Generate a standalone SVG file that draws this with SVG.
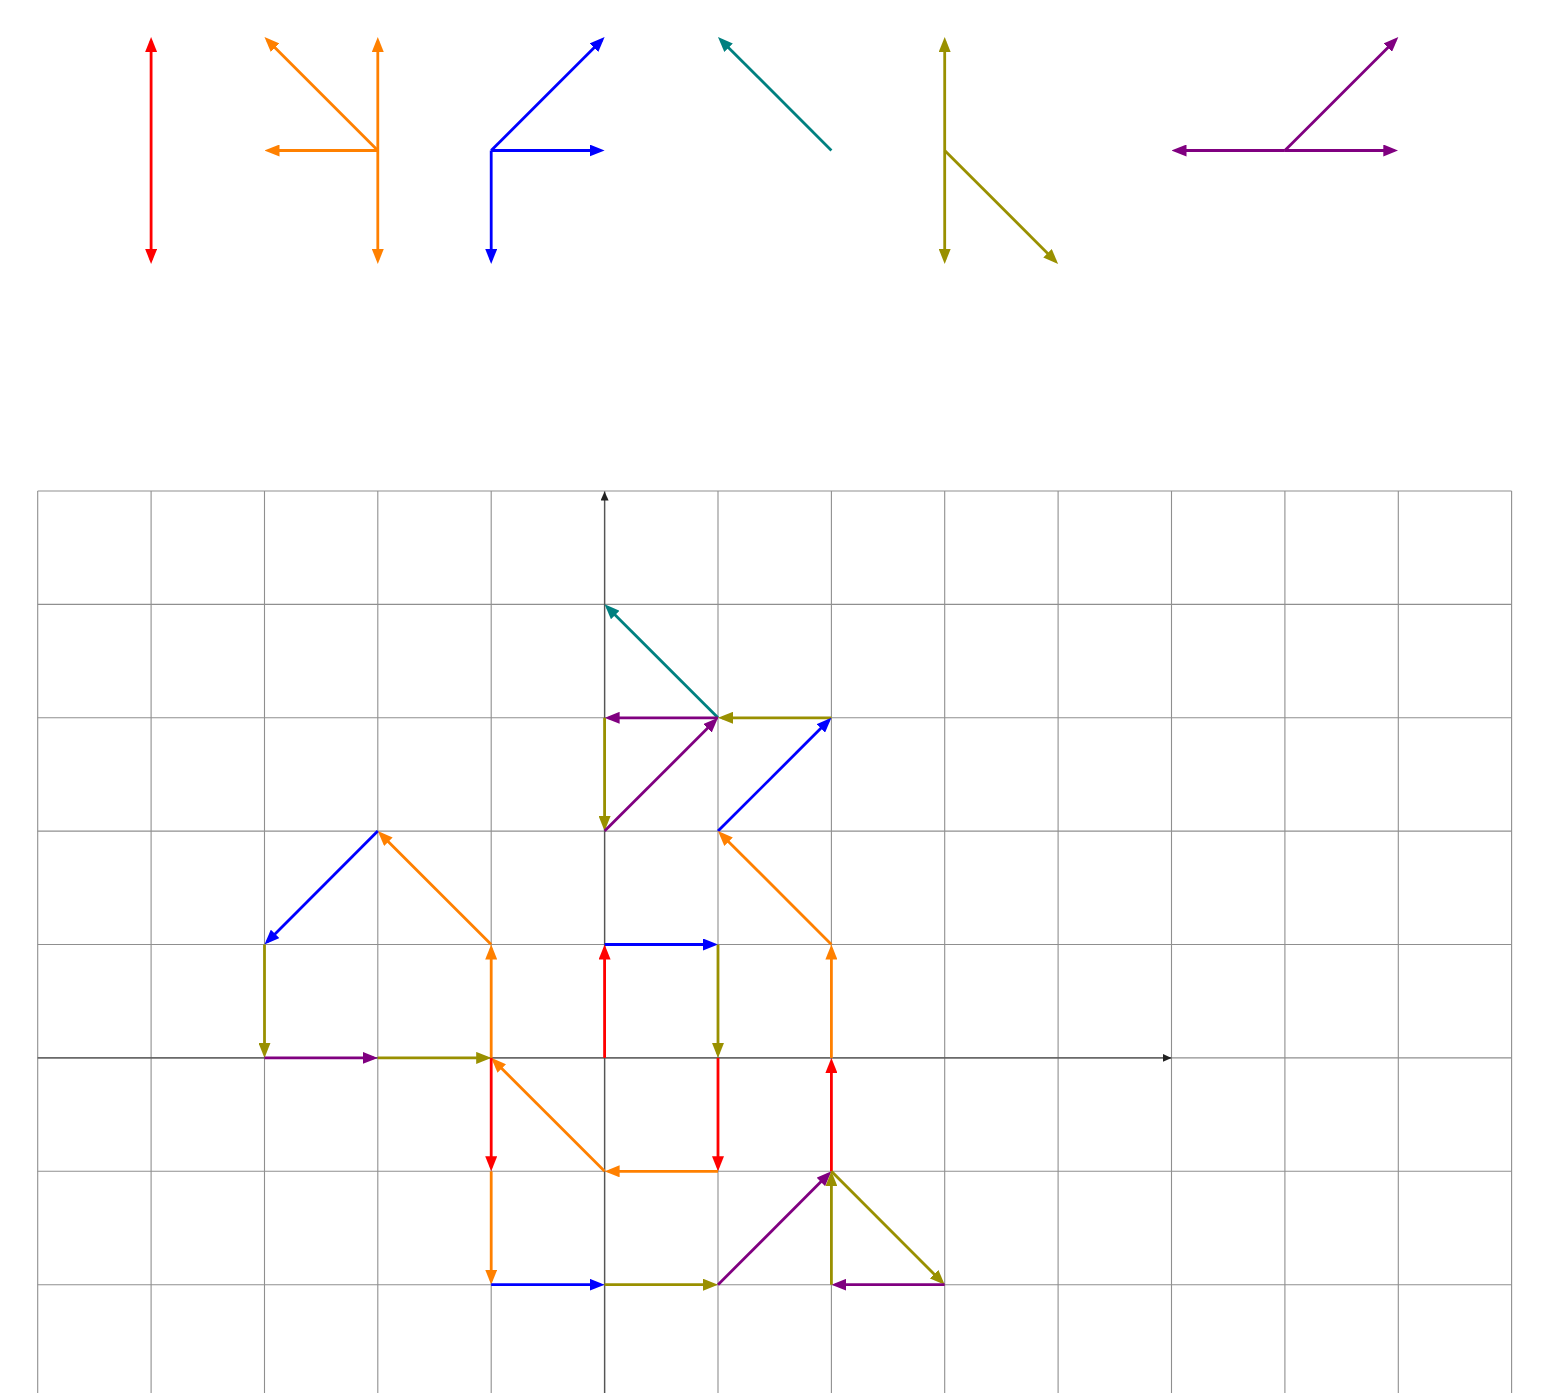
<svg xmlns="http://www.w3.org/2000/svg" width="1543" height="1393" viewBox="0 0 1543 1393">
<style>
.grid line{stroke:#8f8f8f;stroke-width:1.1}
.axis{stroke:#555;stroke-width:1.4;fill:none}
.a{fill:none;stroke-width:2.8;stroke-linecap:butt}
.r{stroke:#ff0000}.o{stroke:#ff8000}.b{stroke:#0000ff}.t{stroke:#008080}.v{stroke:#999000}.p{stroke:#800080}
.r{marker-end:url(#mr)}.o{marker-end:url(#mo)}.b{marker-end:url(#mb)}.t{marker-end:url(#mt)}.v{marker-end:url(#mv)}.p{marker-end:url(#mp)}
.r.d{marker-start:url(#mr)}.o.d{marker-start:url(#mo)}.v.d{marker-start:url(#mv)}
</style>
<defs>
<marker id="mr" markerUnits="userSpaceOnUse" viewBox="0 0 15 12" markerWidth="15" markerHeight="12" refX="11" refY="6" orient="auto-start-reverse"><path d="M0,0 L15,6 L0,12 z" fill="#ff0000"/></marker>
<marker id="mo" markerUnits="userSpaceOnUse" viewBox="0 0 15 12" markerWidth="15" markerHeight="12" refX="11" refY="6" orient="auto-start-reverse"><path d="M0,0 L15,6 L0,12 z" fill="#ff8000"/></marker>
<marker id="mb" markerUnits="userSpaceOnUse" viewBox="0 0 15 12" markerWidth="15" markerHeight="12" refX="11" refY="6" orient="auto-start-reverse"><path d="M0,0 L15,6 L0,12 z" fill="#0000ff"/></marker>
<marker id="mt" markerUnits="userSpaceOnUse" viewBox="0 0 15 12" markerWidth="15" markerHeight="12" refX="11" refY="6" orient="auto-start-reverse"><path d="M0,0 L15,6 L0,12 z" fill="#008080"/></marker>
<marker id="mv" markerUnits="userSpaceOnUse" viewBox="0 0 15 12" markerWidth="15" markerHeight="12" refX="11" refY="6" orient="auto-start-reverse"><path d="M0,0 L15,6 L0,12 z" fill="#999000"/></marker>
<marker id="mp" markerUnits="userSpaceOnUse" viewBox="0 0 15 12" markerWidth="15" markerHeight="12" refX="11" refY="6" orient="auto-start-reverse"><path d="M0,0 L15,6 L0,12 z" fill="#800080"/></marker>
<marker id="mk" markerUnits="userSpaceOnUse" viewBox="0 0 9 8" markerWidth="9" markerHeight="8" refX="9" refY="4" orient="auto"><path d="M0,0 L9,4 L0,8 z" fill="#222"/></marker>
</defs>
<rect width="1543" height="1393" fill="#fff"/>

<g id="legend">
<g id="sym-red"><line class="a r d" x1="151.1" y1="41.1" x2="151.1" y2="259.9"/></g>
<g id="sym-orange">
<line class="a o d" x1="377.8" y1="41.1" x2="377.8" y2="259.9"/>
<line class="a o" x1="377.8" y1="150.5" x2="268.5" y2="150.5"/>
<line class="a o" x1="377.8" y1="150.5" x2="267.3" y2="39.9"/>
</g>
<g id="sym-blue">
<line class="a b" x1="491.2" y1="150.5" x2="601.8" y2="39.9"/>
<line class="a b" x1="491.2" y1="150.5" x2="600.6" y2="150.5"/>
<line class="a b" x1="491.2" y1="150.5" x2="491.2" y2="259.9"/>
</g>
<g id="sym-teal"><line class="a t" x1="831.4" y1="150.5" x2="720.8" y2="39.9"/></g>
<g id="sym-olive">
<line class="a v d" x1="944.7" y1="41.1" x2="944.7" y2="259.9"/>
<line class="a v" x1="944.7" y1="150.5" x2="1055.3" y2="261.1"/>
</g>
<g id="sym-purple">
<line class="a p" x1="1284.9" y1="150.5" x2="1175.5" y2="150.5"/>
<line class="a p" x1="1284.9" y1="150.5" x2="1394.3" y2="150.5"/>
<line class="a p" x1="1284.9" y1="150.5" x2="1395.5" y2="39.9"/>
</g>
</g>

<g id="grid" class="grid">
<line x1="37.7" y1="491" x2="37.7" y2="1393"/>
<line x1="151.1" y1="491" x2="151.1" y2="1393"/>
<line x1="264.5" y1="491" x2="264.5" y2="1393"/>
<line x1="377.8" y1="491" x2="377.8" y2="1393"/>
<line x1="491.2" y1="491" x2="491.2" y2="1393"/>
<line x1="604.6" y1="491" x2="604.6" y2="1393"/>
<line x1="718.0" y1="491" x2="718.0" y2="1393"/>
<line x1="831.4" y1="491" x2="831.4" y2="1393"/>
<line x1="944.7" y1="491" x2="944.7" y2="1393"/>
<line x1="1058.1" y1="491" x2="1058.1" y2="1393"/>
<line x1="1171.5" y1="491" x2="1171.5" y2="1393"/>
<line x1="1284.9" y1="491" x2="1284.9" y2="1393"/>
<line x1="1398.3" y1="491" x2="1398.3" y2="1393"/>
<line x1="1511.6" y1="491" x2="1511.6" y2="1393"/>
<line x1="37.7" y1="491.0" x2="1511.6" y2="491.0"/>
<line x1="37.7" y1="604.4" x2="1511.6" y2="604.4"/>
<line x1="37.7" y1="717.8" x2="1511.6" y2="717.8"/>
<line x1="37.7" y1="831.1" x2="1511.6" y2="831.1"/>
<line x1="37.7" y1="944.5" x2="1511.6" y2="944.5"/>
<line x1="37.7" y1="1057.9" x2="1511.6" y2="1057.9"/>
<line x1="37.7" y1="1171.3" x2="1511.6" y2="1171.3"/>
<line x1="37.7" y1="1284.7" x2="1511.6" y2="1284.7"/>
</g>

<g id="axes">
<line class="axis" x1="37.7" y1="1057.9" x2="1171.5" y2="1057.9" marker-end="url(#mk)"/>
<line class="axis" x1="604.6" y1="1393" x2="604.6" y2="491.5" marker-end="url(#mk)"/>
</g>

<g id="connectors">
<line class="a t" x1="718.0" y1="717.8" x2="607.4" y2="607.2"/>
<line class="a p" x1="718.0" y1="717.8" x2="608.6" y2="717.8"/>
<line class="a v" x1="831.4" y1="717.8" x2="722.0" y2="717.8"/>
<line class="a v" x1="604.6" y1="717.8" x2="604.6" y2="827.1"/>
<line class="a p" x1="604.6" y1="831.1" x2="715.2" y2="720.6"/>
<line class="a b" x1="718.0" y1="831.1" x2="828.6" y2="720.6"/>
<line class="a o" x1="831.4" y1="944.5" x2="720.8" y2="833.9"/>
<line class="a o" x1="831.4" y1="1057.9" x2="831.4" y2="948.5"/>
<line class="a b" x1="604.6" y1="944.5" x2="714.0" y2="944.5"/>
<line class="a r" x1="604.6" y1="1057.9" x2="604.6" y2="948.5"/>
<line class="a v" x1="718.0" y1="944.5" x2="718.0" y2="1053.9"/>
<line class="a r" x1="718.0" y1="1057.9" x2="718.0" y2="1167.3"/>
<line class="a o" x1="718.0" y1="1171.3" x2="608.6" y2="1171.3"/>
<line class="a o" x1="604.6" y1="1171.3" x2="494.0" y2="1060.7"/>
<line class="a r" x1="491.2" y1="1057.9" x2="491.2" y2="1167.3"/>
<line class="a o" x1="491.2" y1="1171.3" x2="491.2" y2="1280.7"/>
<line class="a b" x1="491.2" y1="1284.7" x2="600.6" y2="1284.7"/>
<line class="a v" x1="604.6" y1="1284.7" x2="714.0" y2="1284.7"/>
<line class="a p" x1="718.0" y1="1284.7" x2="828.6" y2="1174.1"/>
<line class="a r" x1="831.4" y1="1171.3" x2="831.4" y2="1061.9"/>
<line class="a v" x1="831.4" y1="1171.3" x2="941.9" y2="1281.9"/>
<line class="a p" x1="944.7" y1="1284.7" x2="835.4" y2="1284.7"/>
<line class="a v" x1="831.4" y1="1284.7" x2="831.4" y2="1175.3"/>
<line class="a o" x1="491.2" y1="1057.9" x2="491.2" y2="948.5"/>
<line class="a o" x1="491.2" y1="944.5" x2="380.6" y2="833.9"/>
<line class="a b" x1="377.8" y1="831.1" x2="267.3" y2="941.7"/>
<line class="a v" x1="264.5" y1="944.5" x2="264.5" y2="1053.9"/>
<line class="a p" x1="264.5" y1="1057.9" x2="373.8" y2="1057.9"/>
<line class="a v" x1="377.8" y1="1057.9" x2="487.2" y2="1057.9"/>
</g>
</svg>
